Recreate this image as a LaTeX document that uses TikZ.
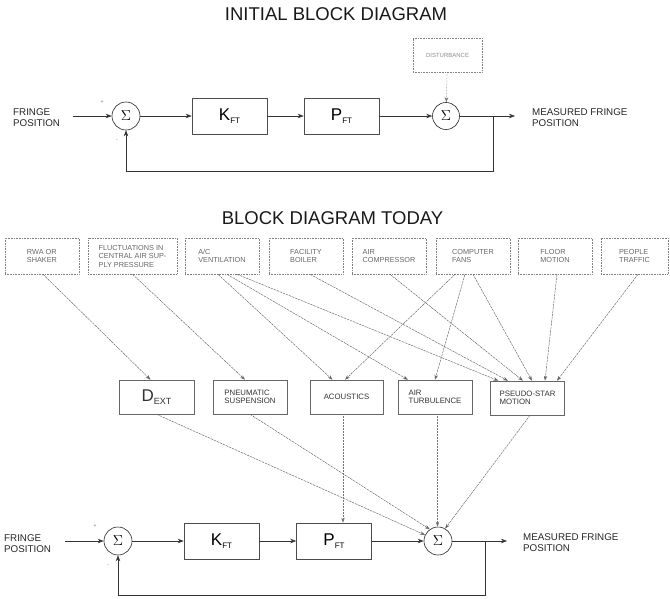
\documentclass[tikz,border=0pt]{standalone}
\usepackage{fontspec}
\setmainfont{Liberation Sans}
\usetikzlibrary{arrows.meta}
\begin{document}
\begin{tikzpicture}[x=1pt,y=-1pt,
  lbl/.style={font=\fontsize{9.8}{11}\selectfont, align=left, inner sep=0, anchor=west, text=black!85},
  ttl/.style={font=\fontsize{18.5}{20}\selectfont, inner sep=0, text=black!90},
  blk/.style={draw=black!70, line width=0.6pt, minimum width=75pt, minimum height=36pt, inner sep=0},
  src/.style={draw=black!50, densely dotted, line width=0.6pt, minimum width=74pt, minimum height=36pt, inner sep=0, font=\fontsize{7.3}{8.5}\selectfont, text=black!60, align=left},
  mid/.style={draw=black!60, line width=0.5pt, minimum width=74pt, minimum height=34pt, inner sep=0, font=\fontsize{7.8}{8.5}\selectfont, text=black!80, align=left},
  sumn/.style={circle, draw=black!85, line width=0.6pt, minimum size=28pt, inner sep=0, font=\fontsize{15}{15}\selectfont},
  arr/.style={-{Stealth[length=6pt,width=4.5pt]}, line width=0.6pt, draw=black!80},
  infl/.style={-{Stealth[length=5pt,width=3.5pt]}, line width=0.45pt, draw=black!60, dash pattern=on 2.5pt off 0.8pt},
  vdot/.style={-{Stealth[length=5pt,width=3.5pt]}, line width=0.5pt, draw=black!55, densely dotted},
  pm/.style={font=\fontsize{5}{5}\selectfont, inner sep=0, text=black!60}
]
\useasboundingbox (0,0) rectangle (670,599);

% ---------------- INITIAL BLOCK DIAGRAM ----------------
\node[ttl] (t1) at (336,14.5) {INITIAL BLOCK DIAGRAM};

\node[lbl] (fpA) at (13,117.5) {FRINGE\\POSITION};
\coordinate (inA) at (73,116);
\node[sumn] (sA) at (126,116) {$\Sigma$};
\node[blk] (kA) at (229.5,116) {{\fontsize{17}{17}\selectfont K}\raisebox{-2.5pt}{\fontsize{8}{8}\selectfont FT}};
\node[blk] (pA) at (341.5,116) {{\fontsize{17}{17}\selectfont P}\raisebox{-2.5pt}{\fontsize{8}{8}\selectfont FT}};
\node[sumn, minimum size=27pt] (sB) at (446,116) {$\Sigma$};
\coordinate (brA) at (493,116);
\coordinate (outA) at (515,116);
\node[lbl] (mfA) at (532,117.5) {MEASURED FRINGE\\POSITION};
\node[src, minimum width=69pt, minimum height=34pt, font=\fontsize{6}{6}\selectfont, text=black!45] (dA) at (447.5,55) {DISTURBANCE};
\node[pm] (plA) at (102,102) {+};
\node[pm] (miA) at (117,141) {-};

\draw[arr] (inA) -- (sA);
\draw[arr] (sA) -- (kA);
\draw[arr] (kA) -- (pA);
\draw[arr] (pA) -- (sB);
\draw[arr] (sB) -- (outA);
\draw[vdot] (dA) -- (sB);
\draw[arr] (brA) -- ++(0,55) -| (sA.south);

% ---------------- BLOCK DIAGRAM TODAY ----------------
\node[ttl] (t2) at (332.5,218.5) {BLOCK DIAGRAM TODAY};

\node[src] (rwa)   at (42,256)    {RWA OR\\SHAKER};
\node[src, minimum width=89pt] (fluc) at (132.5,256) {FLUCTUATIONS IN\\CENTRAL AIR SUP-\\PLY PRESSURE};
\node[src] (ac)    at (222,256)   {A/C\\VENTILATION};
\node[src] (boil)  at (306,256)   {FACILITY\\BOILER};
\node[src] (comp)  at (389,256)   {AIR\\COMPRESSOR};
\node[src] (fans)  at (473,256)   {COMPUTER\\FANS};
\node[src] (floor) at (555,256)   {FLOOR\\MOTION};
\node[src, minimum width=67pt] (ppl) at (634.5,256) {PEOPLE\\TRAFFIC};

\node[mid, minimum width=75pt] (dext) at (156.5,397) {{\fontsize{17}{17}\selectfont D}\raisebox{-2.5pt}{\fontsize{9}{9}\selectfont EXT}};
\node[mid] (pneu) at (250,397)   {PNEUMATIC\\SUSPENSION};
\node[mid, minimum width=73pt] (acou) at (346.5,397) {ACOUSTICS};
\node[mid] (airt) at (435,397)   {AIR\\TURBULENCE};
\node[mid] (pseu) at (527.5,398) {PSEUDO-STAR\\MOTION};

% influences top row -> middle row
\draw[infl] ([xshift=1pt]rwa.south) -- ([xshift=-6pt]dext.north);
\draw[infl] (fluc.south) -- ([xshift=-5pt]pneu.north);
\draw[infl] ([xshift=-4pt]ac.south) -- ([xshift=-14pt]acou.north);
\draw[infl] ([xshift=5pt]ac.south) -- ([xshift=-27pt]airt.north);
\draw[infl] ([xshift=15pt]ac.south) -- ([xshift=-29pt]pseu.north);
\draw[infl] ([xshift=4pt]boil.south) -- ([xshift=-19.5pt]pseu.north);
\draw[infl] ([xshift=1pt]comp.south) -- ([xshift=-4.5pt]pseu.north);
\draw[infl] ([xshift=-18pt]fans.south) -- ([xshift=-1.5pt]acou.north);
\draw[infl] ([xshift=-8pt]fans.south) -- (airt.north);
\draw[infl] (fans.south) -- ([xshift=4.5pt]pseu.north);
\draw[infl] ([xshift=2pt]floor.south) -- ([xshift=17.5pt]pseu.north);
\draw[infl] ([xshift=3.5pt]ppl.south) -- ([xshift=29.5pt]pseu.north);

% bottom loop
\node[lbl] (fpB) at (4,543.5) {FRINGE\\POSITION};
\coordinate (inB) at (65,541);
\node[sumn] (sC) at (118,541) {$\Sigma$};
\node[blk] (kB) at (221.5,541) {{\fontsize{17}{17}\selectfont K}\raisebox{-2.5pt}{\fontsize{8}{8}\selectfont FT}};
\node[blk] (pB) at (334,541) {{\fontsize{17}{17}\selectfont P}\raisebox{-2.5pt}{\fontsize{8}{8}\selectfont FT}};
\node[sumn] (sD) at (438,541) {$\Sigma$};
\coordinate (brB) at (485,541);
\coordinate (outB) at (507,541);
\node[lbl] (mfB) at (523,542.5) {MEASURED FRINGE\\POSITION};
\node[pm] (plB) at (95,526) {+};
\node[pm] (miB) at (108,566) {-};

\draw[arr] (inB) -- (sC);
\draw[arr] (sC) -- (kB);
\draw[arr] (kB) -- (pB);
\draw[arr] (pB) -- (sD);
\draw[arr] (sD) -- (outB);
\draw[arr] (brB) -- ++(0,54) -| (sC.south);

% middle row -> bottom loop
\draw[infl] (dext.south) -- (sD.155);
\draw[infl] (pneu.south) -- (sD.125);
\draw[vdot] ([xshift=-3.5pt]acou.south) -- ([xshift=9pt]pB.north);
\draw[vdot] ([xshift=2.5pt]airt.south) -- ([xshift=-0.5pt]sD.north);
\draw[infl] ([xshift=2.5pt]pseu.south) -- (sD.60);
\end{tikzpicture}
\end{document}
